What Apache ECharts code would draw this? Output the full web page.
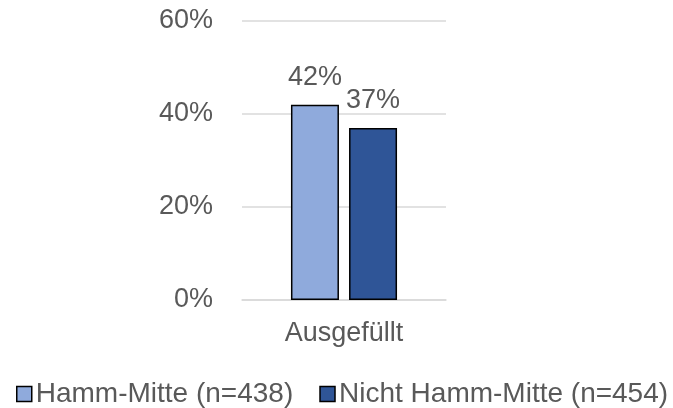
<!DOCTYPE html>
<html>
<head>
<meta charset="utf-8">
<script src="https://cdn.jsdelivr.net/npm/echarts@6/dist/echarts.min.js"></script>
<style>
  html, body { margin: 0; padding: 0; background: #fff; }
  #chart { width: 673px; height: 408px; }
</style>
</head>
<body>
<div id="chart"></div>
<script>
var categories = ['Ausgefüllt'];
var seriesNames = ['Hamm-Mitte (n=438)', 'Nicht Hamm-Mitte (n=454)'];
var hammMitte = [42];
var nichtHammMitte = [37];
var seriesColors = ['#8faadc', '#2f5597'];

var myChart = echarts.init(document.getElementById('chart'));

var textColor = '#595959';
var font = 'Liberation Sans, Arial, sans-serif';

function makeSeries(name, data, color) {
    return {
        name: name,
        type: 'bar',
        data: data,
        barWidth: 48,
        barGap: '21%',
        itemStyle: {
            color: color,
            borderColor: '#000',
            borderWidth: 1.5
        },
        label: {
            show: true,
            position: 'top',
            distance: 14,
            formatter: '{c}%',
            color: textColor,
            fontSize: 27,
            fontFamily: font
        }
    };
}

var option = {
    animation: false,
    textStyle: { fontFamily: font },
    grid: {
        left: 242,
        right: 227,
        top: 21,
        bottom: 108
    },
    legend: {
        data: seriesNames,
        top: 380,
        left: 16,
        width: 657,
        padding: 0,
        itemWidth: 15,
        itemHeight: 15,
        itemGap: 26,
        icon: 'rect',
        textStyle: { color: textColor, fontSize: 28, fontFamily: font, padding: [0, 0, 0, -1] },
        itemStyle: { borderColor: '#000', borderWidth: 1.5 }
    },
    xAxis: {
        type: 'category',
        data: categories,
        axisLine: { lineStyle: { color: '#d9d9d9', width: 1.5 } },
        axisTick: { show: false },
        axisLabel: { color: textColor, fontSize: 27, fontFamily: font, margin: 20 }
    },
    yAxis: {
        type: 'value',
        min: 0,
        max: 60,
        interval: 20,
        axisLine: { show: false },
        axisTick: { show: false },
        splitLine: { lineStyle: { color: '#d9d9d9', width: 1.5 } },
        axisLabel: {
            color: textColor,
            fontSize: 27,
            fontFamily: font,
            margin: 29,
            formatter: '{value}%'
        }
    },
    series: [
        makeSeries(seriesNames[0], hammMitte, seriesColors[0]),
        makeSeries(seriesNames[1], nichtHammMitte, seriesColors[1])
    ]
};

myChart.setOption(option);
</script>
</body>
</html>
